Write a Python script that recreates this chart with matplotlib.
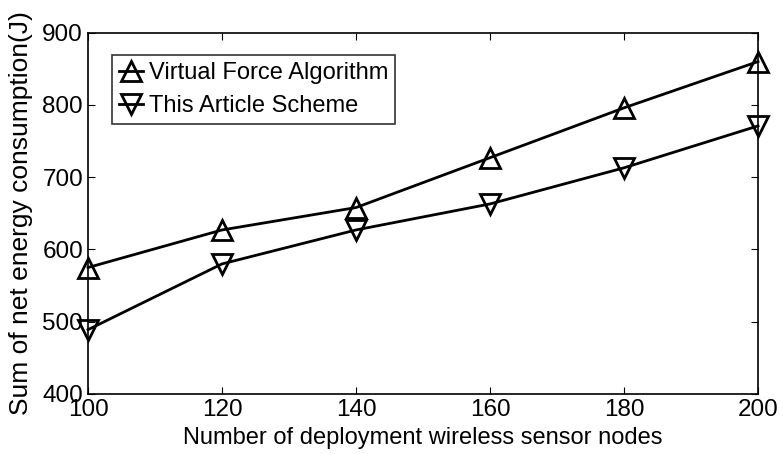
import matplotlib
matplotlib.use("Agg")
import matplotlib.pyplot as plt

nodes = [100, 120, 140, 160, 180, 200]
virtual_force = [575, 627, 658, 727, 796, 860]
this_scheme = [489, 580, 627, 663, 713, 771]
yticks = [400, 500, 600, 700, 800, 900]

plt.rcParams['font.family'] = ['Liberation Sans', 'DejaVu Sans']

fig = plt.figure(figsize=(7.83, 4.54), dpi=100)
ax = fig.add_axes([0.1124, 0.1322, 0.8557, 0.7958])

ax.plot(nodes, virtual_force, color='black', lw=2.0, marker='^', ms=14,
        mfc='none', mec='black', mew=2.0, label='Virtual Force Algorithm', clip_on=False)
ax.plot(nodes, this_scheme, color='black', lw=2.0, marker='v', ms=14,
        mfc='none', mec='black', mew=2.0, label='This Article Scheme', clip_on=False)

ax.set_xlim(100, 200)
ax.set_ylim(400, 900)
ax.set_xticks(nodes)
ax.set_yticks(yticks)
ax.tick_params(direction='in', top=True, right=True, labelsize=17.5, length=5, pad=3.6)
for s in ax.spines.values():
    s.set_linewidth(1.2)

ax.set_xlabel('Number of deployment wireless sensor nodes', fontsize=17, labelpad=4)
ax.set_ylabel('Sum of net energy consumption(J)', fontsize=19, labelpad=7)

leg = ax.legend(loc='upper left', bbox_to_anchor=(0.0358, 0.938), fontsize=17,
                frameon=True, fancybox=False, edgecolor='black', handlelength=1.0,
                handletextpad=0.25, borderpad=0.3, labelspacing=0.45, borderaxespad=0,
                numpoints=1)
leg.get_frame().set_linewidth(1.2)

fig.savefig('out.png', dpi=100)
